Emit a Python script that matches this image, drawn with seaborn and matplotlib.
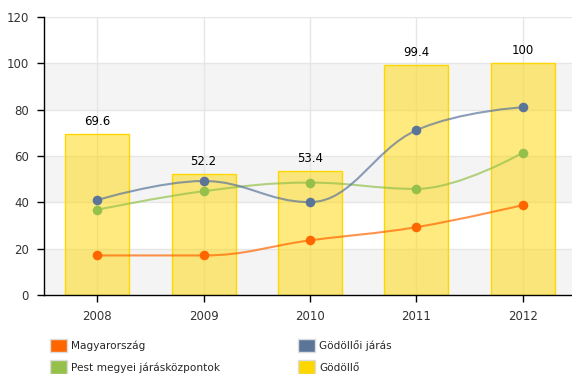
import numpy as np
import pandas as pd
import matplotlib
matplotlib.use("Agg")
import matplotlib.pyplot as plt
from matplotlib.path import Path
from matplotlib.patches import PathPatch, Patch
import seaborn as sns

years = ["2008", "2009", "2010", "2011", "2012"]
magyarorszag = [17.1, 17.1, 23.6, 29.3, 38.8]
godolloi_jaras = [41.0, 49.2, 40.1, 71.1, 81.0]
pest_megyei = [36.8, 44.8, 48.5, 45.8, 61.4]
godollo = [69.6, 52.2, 53.4, 99.4, 100]

c_orange = "#ff6600"
c_blue = "#5b7599"
c_green = "#95c14b"
c_gold = "#ffd700"

sns.set_style("white")
plt.rcParams["font.family"] = ["DejaVu Sans"]


def spline_path(xs, ys, smoothing=1.5):
    # Highcharts-like spline: cubic bezier through the points
    denom = smoothing + 1
    n = len(xs)
    lc = [None] * n
    rc = [None] * n
    for i in range(1, n - 1):
        x, y = xs[i], ys[i]
        px, py = xs[i - 1], ys[i - 1]
        nx, ny = xs[i + 1], ys[i + 1]
        lcx = (smoothing * x + px) / denom
        lcy = (smoothing * y + py) / denom
        rcx = (smoothing * x + nx) / denom
        rcy = (smoothing * y + ny) / denom
        corr = ((rcy - lcy) * (rcx - x)) / (rcx - lcx) + y - rcy
        lcy += corr
        rcy += corr
        if lcy > max(py, y):
            lcy = max(py, y); rcy = 2 * y - lcy
        elif lcy < min(py, y):
            lcy = min(py, y); rcy = 2 * y - lcy
        if rcy > max(ny, y):
            rcy = max(ny, y); lcy = 2 * y - rcy
        elif rcy < min(ny, y):
            rcy = min(ny, y); lcy = 2 * y - rcy
        lc[i] = (lcx, lcy)
        rc[i] = (rcx, rcy)
    verts = [(xs[0], ys[0])]
    codes = [Path.MOVETO]
    for i in range(1, n):
        c1 = rc[i - 1] if rc[i - 1] else (xs[i - 1], ys[i - 1])
        c2 = lc[i] if lc[i] else (xs[i], ys[i])
        verts += [c1, c2, (xs[i], ys[i])]
        codes += [Path.CURVE4] * 3
    return Path(verts, codes)


fig = plt.figure(figsize=(5.72, 3.74), dpi=100)
ax = fig.add_axes([0.077, 0.211, 0.93, 0.744])

# alternating bands
for lo in (0, 40, 80):
    ax.axhspan(lo, lo + 20, color="#f4f4f4", zorder=0, lw=0)
for yv in range(20, 121, 20):
    ax.axhline(yv, color="#e6e6e6", lw=1, zorder=0.5)
for xv in range(len(years)):
    ax.axvline(xv, color="#e6e6e6", lw=1, zorder=0.5)

n_before = len(ax.patches)
df = pd.DataFrame({"year": years, "value": godollo})
sns.barplot(data=df, x="year", y="value", color=c_gold, saturation=1, width=0.6,
            edgecolor=c_gold, linewidth=1, ax=ax, zorder=2)
for p in ax.patches[n_before:]:
    p.set_facecolor((1.0, 0.843, 0.0, 0.5))
    p.set_edgecolor((1.0, 0.843, 0.0, 1.0))
for i, v in enumerate(godollo):
    ax.text(i, v + 2.5, f"{v:g}", ha="center", va="bottom", fontsize=8.5,
            color="#000000", zorder=5)

xs = np.arange(len(years), dtype=float)
for vals, col in [(pest_megyei, c_green), (godolloi_jaras, c_blue), (magyarorszag, c_orange)]:
    ax.add_patch(PathPatch(spline_path(xs, vals), fill=False, edgecolor=col,
                           lw=1.5, alpha=0.7, zorder=3))
    sns.scatterplot(x=xs, y=vals, color=col, s=48, edgecolor=col, linewidth=0,
                    ax=ax, zorder=4, legend=False)

ax.set_xlim(-0.5, 4.5)
ax.set_ylim(0, 120)
ax.set_yticks(range(0, 121, 20))
ax.set_xticks(range(len(years)))
ax.set_xticklabels(years)
ax.set_xlabel("")
ax.set_ylabel("")
for s in ("top", "right"):
    ax.spines[s].set_visible(False)
for s in ("left", "bottom"):
    ax.spines[s].set_color("#000000")
    ax.spines[s].set_linewidth(1)
ax.tick_params(axis="both", direction="out", length=5, width=1, color="#000000",
               labelsize=8.5, labelcolor="#333333", pad=6, left=True, bottom=True)

handles = [Patch(facecolor=c_orange, edgecolor="#dddddd", label="Magyarország"),
           Patch(facecolor=c_green, edgecolor="#dddddd", label="Pest megyei járásközpontok"),
           Patch(facecolor=c_blue, edgecolor="#dddddd", label="Gödöllői járás"),
           Patch(facecolor=c_gold, edgecolor="#dddddd", label="Gödöllő")]
fig.legend(handles=handles, loc="upper left", bbox_to_anchor=(0.087, 0.094), ncol=2,
           frameon=False, fontsize=7.6, handlelength=1.6, handleheight=1.6,
           handletextpad=0.4, columnspacing=7.4, labelspacing=0.75, borderaxespad=0,
           borderpad=0)

fig.savefig("out.png", dpi=100)
